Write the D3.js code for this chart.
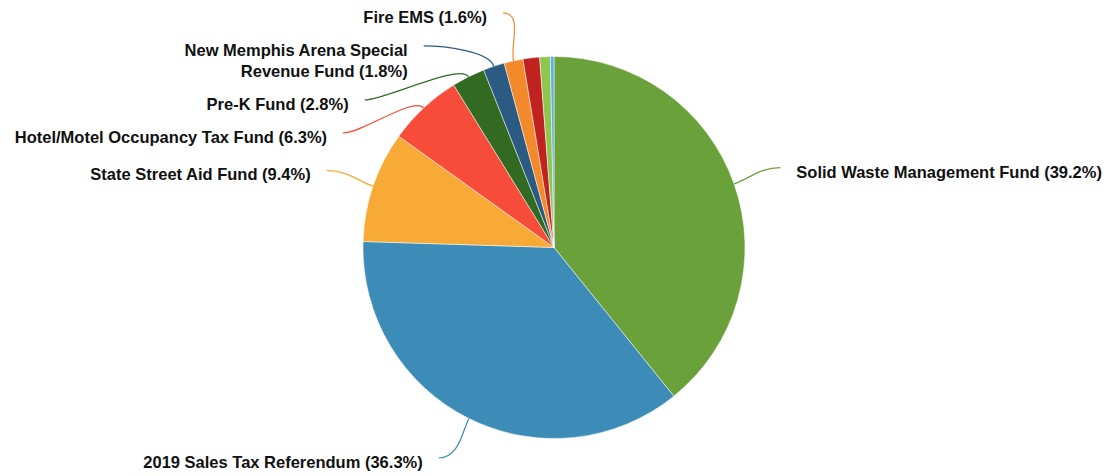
<!DOCTYPE html>
<html>
<head>
<meta charset="utf-8">
<script src="https://cdn.jsdelivr.net/npm/d3@7"></script>
<style>
  html, body { margin: 0; padding: 0; background: #fff; }
  svg { display: block; }
  text { font-family: "Liberation Sans", Arial, Helvetica, sans-serif; font-weight: bold; fill: #111; }
</style>
</head>
<body>
<svg id="chart" width="1115" height="476"></svg>
<script>
// ---- data ----
const categories = [
  "Solid Waste Management Fund",
  "2019 Sales Tax Referendum",
  "State Street Aid Fund",
  "Hotel/Motel Occupancy Tax Fund",
  "Pre-K Fund",
  "New Memphis Arena Special Revenue Fund",
  "Fire EMS",
  "Other Fund A",
  "Other Fund B",
  "Other Fund C"
];
const shares = [39.2, 36.3, 9.4, 6.3, 2.8, 1.8, 1.6, 1.4, 0.9, 0.3];
const colors = ["#6aa13a", "#3d8bb7", "#f7aa35", "#f84c3a", "#336a22", "#2b5a82", "#f28a2c", "#c0221f", "#8fc650", "#5aaee8"];

// ---- layout ----
const W = 1115, H = 476;
const cx = 554, cy = 247.5, r = 191;
const labelR = 240, bendR = r + 16, tail = 20;
const minLabelShare = 1.5;
const lineH = 21, pad = 12;

const svg = d3.select("#chart");
const g = svg.append("g").attr("transform", `translate(${cx},${cy})`);

const data = categories.map((c, i) => ({ name: c, value: shares[i], color: colors[i] }));
const pie = d3.pie().sort(null).value(d => d.value);
const arcs = pie(data);
const arc = d3.arc().innerRadius(0).outerRadius(r);

g.selectAll("path.slice").data(arcs).join("path")
  .attr("class", "slice")
  .attr("d", arc)
  .attr("fill", d => d.data.color)
  .attr("stroke", "#fff")
  .attr("stroke-width", 0.5);

// wrap names at ~30 chars, percent appended to last line
function wrap(name, pct) {
  const words = name.split(" ");
  const lines = [];
  let cur = "";
  words.forEach(w => {
    const t = cur ? cur + " " + w : w;
    if (t.length > 30 && cur) { lines.push(cur); cur = w; } else cur = t;
  });
  lines.push(cur);
  lines[lines.length - 1] += ` (${pct}%)`;
  return lines;
}

const labels = arcs.filter(a => a.data.value >= minLabelShare).map(a => {
  const mid = (a.startAngle + a.endAngle) / 2;
  return {
    a, mid,
    side: Math.sin(mid) >= 0 ? 1 : -1,
    y: -labelR * Math.cos(mid),
    lines: wrap(a.data.name, d3.format(".1f")(a.data.value))
  };
});

// keep labels inside the canvas, then resolve vertical collisions (top-down)
const yMax = H - cy - 18;
labels.forEach(l => { l.y = Math.min(l.y, yMax - (l.lines.length - 1) * lineH); });
[1, -1].forEach(side => {
  const s = labels.filter(l => l.side === side).sort((p, q) => p.y - q.y);
  for (let i = 1; i < s.length; i++) {
    const need = s[i - 1].y + s[i - 1].lines.length * lineH + pad;
    if (s[i].y < need) s[i].y = need;
  }
});
labels.forEach(l => {
  const yy = Math.max(-labelR, Math.min(labelR, l.y));
  l.x = l.side * Math.sqrt(labelR * labelR - yy * yy);
});

// leader lines
g.selectAll("path.leader").data(labels).join("path")
  .attr("class", "leader")
  .attr("fill", "none")
  .attr("stroke", d => d.a.data.color)
  .attr("stroke-width", 1.2)
  .attr("d", d => {
    const p0 = [r * Math.sin(d.mid), -r * Math.cos(d.mid)];
    const p1 = [bendR * Math.sin(d.mid), -bendR * Math.cos(d.mid)];
    const p2 = [d.x - d.side * tail, d.y];
    const p = d3.path();
    p.moveTo(p0[0], p0[1]);
    p.bezierCurveTo(p1[0], p1[1], p2[0], p2[1], d.x, d.y);
    return p.toString();
  });

// label text
const t = g.selectAll("text.lbl").data(labels).join("text")
  .attr("class", "lbl")
  .attr("font-size", 16.5)
  .attr("text-anchor", d => d.side > 0 ? "start" : "end")
  .attr("x", d => d.x + d.side * 16)
  .attr("y", d => d.y + 10);
t.selectAll("tspan").data(d => d.lines.map(s => ({ s, d }))).join("tspan")
  .attr("x", e => e.d.x + e.d.side * 16)
  .attr("dy", (e, i) => i === 0 ? 0 : lineH)
  .text(e => e.s);
</script>
</body>
</html>
